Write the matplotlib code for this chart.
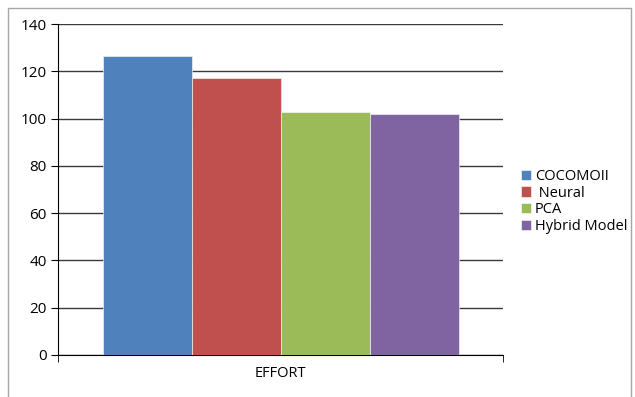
import matplotlib
matplotlib.use("Agg")
import matplotlib.pyplot as plt
from matplotlib.patches import Rectangle

categories = ["EFFORT"]
series_names = ["COCOMOII", " Neural", "PCA", "Hybrid Model"]
series_values = [126.5, 117.3, 102.8, 101.8]
colors = ["#4F81BD", "#C0504D", "#9BBB59", "#8064A2"]
yticks = [0, 20, 40, 60, 80, 100, 120, 140]

plt.rcParams['font.family'] = ['Open Sans', 'DejaVu Sans']

fig = plt.figure(figsize=(6.35, 3.97), dpi=100)
fig.patches.append(Rectangle((8/635, -0.01), 623/635, 1 - 8/397 + 0.01,
                             transform=fig.transFigure, fill=False,
                             edgecolor="#A6A6A6", linewidth=1, zorder=0))
ax = fig.add_axes([58/635, 42/397, 445/635, 331/397])

w = 0.2
n = len(series_names)
for i, (name, val, c) in enumerate(zip(series_names, series_values, colors)):
    x = (i - (n - 1) / 2) * w
    ax.bar(x, val, width=w, color=c, label=name, edgecolor="#FFFFFF",
           linewidth=0.4, zorder=3)

ax.set_xlim(-0.5, 0.5)
ax.set_ylim(0, 140)
ax.set_yticks(yticks)
ax.yaxis.grid(True, color="#3A3A3A", linewidth=1, zorder=0)
ax.set_axisbelow(True)
for s in ["top", "right"]:
    ax.spines[s].set_visible(False)
ax.spines["left"].set_color("#000000")
ax.spines["bottom"].set_color("#000000")
ax.tick_params(axis="y", length=5, direction="out", labelsize=11, pad=3)
ax.set_xticks([0])
ax.set_xticklabels(categories, fontsize=10.5)
ax.tick_params(axis="x", which="major", length=0, pad=8)
ax.set_xticks([-0.5, 0.5], minor=True)
ax.tick_params(axis="x", which="minor", length=5, direction="out")

leg = fig.legend(loc="upper left", bbox_to_anchor=(515/635, 1 - 163/397),
                 frameon=False, fontsize=10.5, handlelength=0.7, handleheight=0.7,
                 handletextpad=0.25, labelspacing=0.12, borderaxespad=0)

fig.savefig("out.png", dpi=100)
